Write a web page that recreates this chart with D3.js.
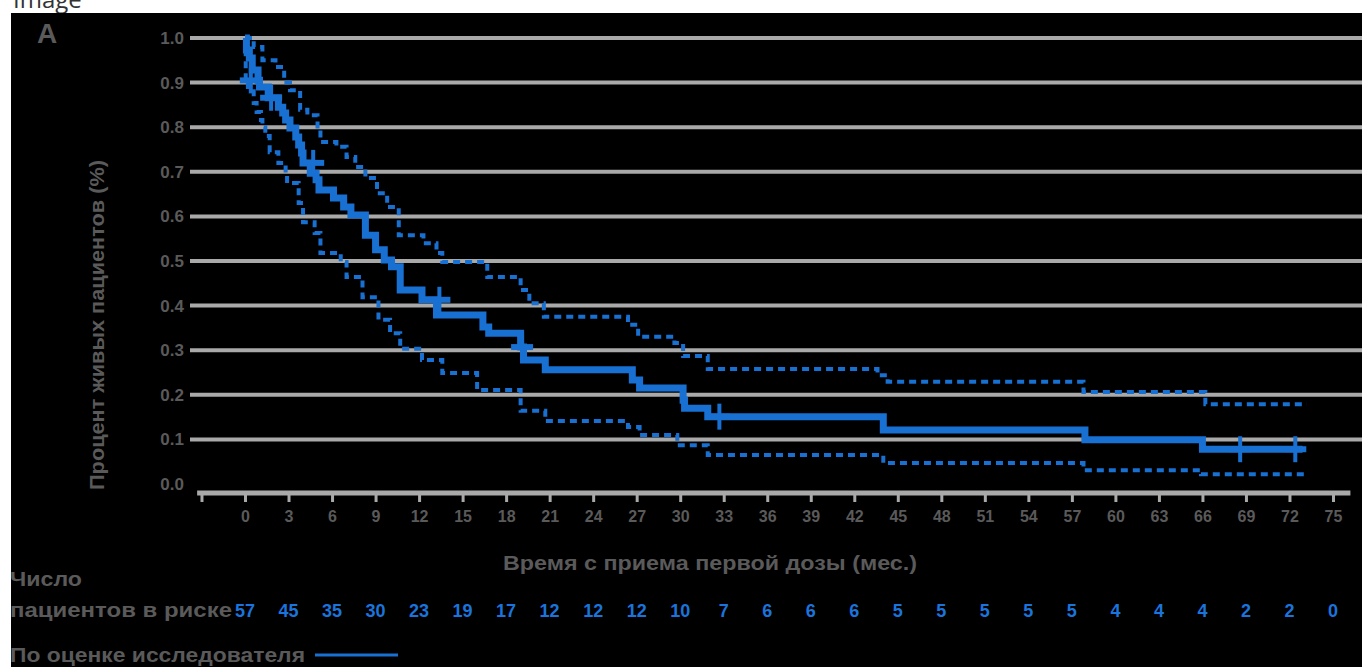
<!DOCTYPE html>
<html lang="ru">
<head>
<meta charset="utf-8">
<style>
  body { margin: 0; background: #fff; }
  svg text { font-family: "Liberation Sans", Arial, sans-serif; font-weight: bold; }
</style>
<title>KM</title>
</head>
<body>
<script src="https://d3js.org/d3.v7.min.js"></script>
<div id="chart"></div>
<script>
// Kaplan-Meier, estimate
const kmTime = [0, 0.1, 0.3, 0.5, 0.9, 1.0, 1.6, 2.3, 2.6, 2.8, 3.1, 3.5, 3.7, 3.9, 4.0, 4.5, 4.9, 5.1, 6.1, 6.8, 7.3, 8.3, 9.0, 9.6, 10.1, 10.7, 12.2, 13.2, 16.4, 16.8, 19.0, 19.2, 20.7, 26.7, 27.2, 30.2, 30.3, 31.9, 44.0, 57.9, 66.0, 72.9];
const kmSurv = [1.0, 0.973, 0.955, 0.928, 0.905, 0.89, 0.866, 0.845, 0.832, 0.816, 0.798, 0.778, 0.76, 0.742, 0.72, 0.697, 0.682, 0.659, 0.641, 0.621, 0.603, 0.558, 0.525, 0.502, 0.487, 0.435, 0.413, 0.379, 0.352, 0.338, 0.307, 0.278, 0.256, 0.233, 0.215, 0.188, 0.17, 0.151, 0.121, 0.099, 0.078, 0.078];

// 95% CI
const upperTime = [0, 0.6, 1.2, 2.1, 2.7, 3.1, 3.8, 4.3, 5.0, 5.2, 6.3, 7.0, 7.6, 8.3, 9.1, 9.8, 10.6, 12.3, 13.2, 13.6, 16.7, 19.0, 19.6, 20.6, 26.4, 27.1, 29.6, 30.2, 31.9, 43.6, 44.3, 57.8, 66.2, 73.2];
const upperVal = [1.0, 0.98, 0.95, 0.935, 0.90, 0.883, 0.839, 0.827, 0.794, 0.767, 0.756, 0.733, 0.711, 0.686, 0.652, 0.621, 0.558, 0.54, 0.518, 0.498, 0.464, 0.435, 0.405, 0.375, 0.357, 0.33, 0.316, 0.287, 0.258, 0.244, 0.229, 0.206, 0.179, 0.179];
const lowerTime = [0, 0.05, 0.2, 0.6, 0.8, 1.1, 1.2, 1.4, 1.7, 2.3, 2.8, 2.9, 3.7, 4.0, 4.8, 5.2, 6.6, 7.0, 8.1, 9.2, 10.0, 10.7, 12.2, 13.6, 16.0, 19.0, 20.7, 26.4, 27.2, 29.8, 31.9, 44.0, 57.8, 65.9, 73.1];
const lowerVal = [1.0, 0.905, 0.89, 0.854, 0.834, 0.816, 0.8, 0.78, 0.744, 0.72, 0.697, 0.675, 0.63, 0.587, 0.563, 0.518, 0.498, 0.464, 0.419, 0.368, 0.338, 0.303, 0.278, 0.249, 0.211, 0.164, 0.141, 0.128, 0.11, 0.087, 0.065, 0.047, 0.031, 0.022, 0.022];

// censored
const censorTime = [0.4, 1.8, 4.7, 13.4, 19.1, 32.7, 68.6, 72.4];
const censorSurv = [0.905, 0.866, 0.72, 0.413, 0.307, 0.151, 0.078, 0.078];

const xTicks = d3.range(0, 76, 3);
const yTicks = [0, 0.1, 0.2, 0.3, 0.4, 0.5, 0.6, 0.7, 0.8, 0.9, 1.0];
const atRisk = [57, 45, 35, 30, 23, 19, 17, 12, 12, 12, 10, 7, 6, 6, 6, 5, 5, 5, 5, 5, 4, 4, 4, 2, 2, 0];

const W = 1362, H = 667;
const blue = "#1770d2";
const gray = "#5a5a5a";

const svg = d3.select("#chart").append("svg")
  .attr("width", W).attr("height", H)
  .style("display", "block");

svg.append("text").attr("x", 13).attr("y", 8)
  .style("font-family", "'Open Sans', sans-serif").style("font-weight", "normal")
  .attr("font-size", 24).attr("fill", "#333").text("Image");

svg.append("rect").attr("x", 11).attr("y", 13).attr("width", W - 11).attr("height", H - 13).attr("fill", "#000");

const x = d3.scaleLinear().domain([0, 75]).range([245, 1333]);
const y = d3.scaleLinear().domain([0, 1]).range([484, 38]);

// grid
svg.append("g").selectAll("line").data(yTicks.filter(d => d > 0)).enter().append("line")
  .attr("x1", 190).attr("x2", W)
  .attr("y1", d => y(d)).attr("y2", d => y(d))
  .attr("stroke", "#a9a9a9").attr("stroke-width", 4);

// y tick labels
svg.append("g").selectAll("text").data(yTicks).enter().append("text")
  .attr("x", 184).attr("y", d => y(d) + 6)
  .attr("text-anchor", "end").attr("font-size", 17).attr("fill", gray)
  .text(d => d.toFixed(1));

// x axis
const xAxis = d3.axisBottom(x).tickValues([-3].concat(xTicks)).tickSize(9).tickPadding(9)
  .tickFormat(d => d < 0 ? "" : d);
const gx = svg.append("g").attr("transform", "translate(0,493)").call(xAxis);
gx.select(".domain").attr("d", `M${x(-3.3)},0H${x(76.2)}`).attr("stroke", "#a9a9a9").attr("stroke-width", 5);
gx.selectAll(".tick line").attr("stroke", "#a9a9a9").attr("stroke-width", 3);
gx.selectAll(".tick text").attr("fill", gray).attr("font-size", 16)
  .style("font-family", "'Liberation Sans', Arial, sans-serif").style("font-weight", "bold");

// lines
const line = d3.line().x(d => x(d[0])).y(d => y(d[1])).curve(d3.curveStepAfter);
const zip = (a, b) => a.map((t, i) => [t, b[i]]);

[zip(upperTime, upperVal), zip(lowerTime, lowerVal)].forEach(pts => {
  svg.append("path").attr("d", line(pts)).attr("fill", "none")
    .attr("stroke", blue).attr("stroke-width", 4).attr("stroke-dasharray", "7,5");
});

svg.append("path").attr("d", line(zip(kmTime, kmSurv))).attr("fill", "none")
  .attr("stroke", blue).attr("stroke-width", 7).attr("stroke-linejoin", "miter");

const cens = svg.append("g").selectAll("g").data(zip(censorTime, censorSurv)).enter().append("g")
  .attr("transform", d => `translate(${x(d[0])},${y(d[1])})`);
cens.append("line").attr("x1", 0).attr("x2", 0).attr("y1", -13).attr("y2", 13)
  .attr("stroke", blue).attr("stroke-width", 4);
cens.append("line").attr("x1", -11).attr("x2", 11).attr("y1", 0).attr("y2", 0)
  .attr("stroke", blue).attr("stroke-width", 6);

// labels
function label(txt, xx, yy, len, anchor) {
  return svg.append("text").attr("x", xx).attr("y", yy).attr("font-size", 20).attr("fill", gray)
    .attr("text-anchor", anchor || "start")
    .attr("textLength", len).attr("lengthAdjust", "spacingAndGlyphs").text(txt);
}

svg.append("text").attr("x", 37).attr("y", 43).attr("font-size", 28).attr("fill", gray).text("A");

svg.append("text").attr("transform", `translate(104,${325}) rotate(-90)`)
  .attr("text-anchor", "middle").attr("font-size", 20).attr("fill", gray)
  .attr("textLength", 330).attr("lengthAdjust", "spacingAndGlyphs")
  .text("Процент живых пациентов (%)");

label("Время с приема первой дозы (мес.)", 710, 570, 414, "middle");
label("Число", 10, 586, 72);
label("пациентов в риске", 10, 617, 222);

svg.append("g").selectAll("text").data(atRisk).enter().append("text")
  .attr("x", (d, i) => x(xTicks[i])).attr("y", 617).attr("text-anchor", "middle")
  .attr("font-size", 18).attr("fill", "#1a74dc").text(d => d);

label("По оценке исследователя", 10, 662, 295);
svg.append("line").attr("x1", 315).attr("x2", 398).attr("y1", 655).attr("y2", 655)
  .attr("stroke", blue).attr("stroke-width", 3);
</script>
</body>
</html>
